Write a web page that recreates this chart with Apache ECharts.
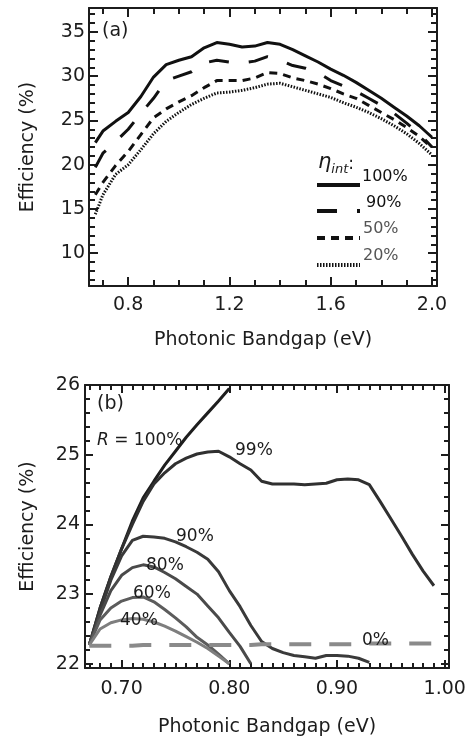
<!DOCTYPE html>
<html>
<head>
<meta charset="utf-8">
<script src="https://cdn.jsdelivr.net/npm/echarts@6/dist/echarts.min.js"></script>
<style>
  html, body { margin: 0; padding: 0; background: #fff; }
  #chart { width: 471px; height: 738px; }
</style>
</head>
<body>
<div id="chart"></div>
<script>
// ---- Panel (a): efficiency vs. photonic bandgap for several internal efficiencies ----
const bandgapA = [0.67, 0.70, 0.75, 0.80, 0.85, 0.90, 0.95, 1.00, 1.05, 1.10, 1.15, 1.20, 1.25, 1.30,
                  1.35, 1.40, 1.45, 1.50, 1.55, 1.60, 1.65, 1.70, 1.75, 1.80, 1.85, 1.90, 1.95, 2.00];
const effInt100 = [22.5, 23.8, 24.9, 25.9, 27.7, 29.9, 31.3, 31.8, 32.2, 33.2, 33.8, 33.6, 33.3, 33.4,
                   33.8, 33.6, 33.0, 32.3, 31.6, 30.8, 30.1, 29.3, 28.4, 27.5, 26.5, 25.5, 24.4, 23.1];
const effInt90  = [19.7, 21.3, 22.6, 24.0, 25.8, 27.5, 29.5, 30.0, 30.5, 31.5, 31.8, 31.6, 31.5, 31.7,
                   32.2, 31.8, 31.2, 30.9, 30.4, 29.5, 28.9, 28.3, 27.5, 26.7, 25.8, 24.7, 23.5, 22.0];
const effInt50  = [16.6, 18.0, 19.9, 21.5, 23.4, 25.3, 26.3, 27.1, 27.8, 28.7, 29.5, 29.5, 29.5, 29.8,
                   30.4, 30.3, 29.8, 29.5, 29.1, 28.6, 28.0, 27.5, 26.7, 25.9, 25.1, 24.2, 23.2, 21.9];
const effInt20  = [14.4, 16.6, 18.9, 20.0, 21.7, 23.5, 24.9, 25.9, 26.8, 27.5, 28.1, 28.2, 28.4, 28.7,
                   29.1, 29.2, 28.8, 28.4, 28.0, 27.6, 27.0, 26.5, 25.9, 25.2, 24.4, 23.5, 22.4, 21.1];
const intNames = ['100%', '90%', '50%', '20%'];
const xTicksA = [0.8, 1.2, 1.6, 2.0];
const xMinorA = [0.7, 0.9, 1.0, 1.1, 1.3, 1.4, 1.5, 1.7, 1.8, 1.9];
const yTicksA = [10, 15, 20, 25, 30, 35];
const yMinorA = [7, 8, 9, 11, 12, 13, 14, 16, 17, 18, 19, 21, 22, 23, 24, 26, 27, 28, 29, 31, 32, 33, 34, 36, 37];

// ---- Panel (b): efficiency vs. photonic bandgap for several mirror reflectivities R ----
const bandgapB = [0.67, 0.68, 0.69, 0.70, 0.71, 0.72, 0.73, 0.74, 0.75, 0.76, 0.77, 0.78, 0.79, 0.80,
                  0.81, 0.82, 0.83, 0.84, 0.85, 0.86, 0.87, 0.88, 0.89, 0.90, 0.91, 0.92, 0.93, 0.94,
                  0.95, 0.96, 0.97, 0.98, 0.99, 1.00];
const effR100 = [22.27, 22.80, 23.25, 23.65, 24.05, 24.38, 24.62, 24.85, 25.05, 25.25, 25.43, 25.60, 25.77, 25.95];
const effR99  = [22.27, 22.80, 23.25, 23.65, 24.00, 24.33, 24.58, 24.74, 24.87, 24.95, 25.01, 25.04, 25.05, 24.97,
                 24.87, 24.78, 24.62, 24.58, 24.58, 24.58, 24.57, 24.58, 24.59, 24.64, 24.65, 24.64, 24.57, 24.33,
                 24.08, 23.83, 23.57, 23.33, 23.12];
const effR90  = [22.27, 22.75, 23.20, 23.55, 23.77, 23.83, 23.82, 23.80, 23.75, 23.68, 23.60, 23.50, 23.32, 23.05,
                 22.82, 22.55, 22.32, 22.22, 22.16, 22.12, 22.10, 22.08, 22.12, 22.12, 22.11, 22.08, 22.02];
const effR80  = [22.27, 22.70, 23.05, 23.27, 23.38, 23.42, 23.39, 23.31, 23.22, 23.11, 23.00, 22.83, 22.66, 22.45,
                 22.25, 22.00];
const effR60  = [22.27, 22.63, 22.80, 22.90, 22.95, 22.96, 22.89, 22.78, 22.66, 22.53, 22.38, 22.27, 22.14, 22.00];
const effR40  = [22.27, 22.50, 22.59, 22.63, 22.65, 22.64, 22.60, 22.54, 22.47, 22.39, 22.31, 22.22, 22.11, 22.00];
const effR0   = [22.26, 22.26, 22.26, 22.26, 22.26, 22.27, 22.27, 22.27, 22.27, 22.27, 22.27, 22.27, 22.27, 22.27,
                 22.27, 22.27, 22.28, 22.28, 22.28, 22.28, 22.28, 22.28, 22.28, 22.28, 22.28, 22.28, 22.29, 22.29,
                 22.29, 22.29, 22.29, 22.29, 22.29, 22.29];
const xTicksB = [0.7, 0.8, 0.9, 1.0];
const xMinorB = [0.67, 0.68, 0.69, 0.71, 0.72, 0.73, 0.74, 0.75, 0.76, 0.77, 0.78, 0.79, 0.81, 0.82, 0.83, 0.84,
                 0.85, 0.86, 0.87, 0.88, 0.89, 0.91, 0.92, 0.93, 0.94, 0.95, 0.96, 0.97, 0.98, 0.99];
const yTicksB = [22, 23, 24, 25, 26];
const yMinorB = [22.2, 22.4, 22.6, 22.8, 23.2, 23.4, 23.6, 23.8, 24.2, 24.4, 24.6, 24.8, 25.2, 25.4, 25.6, 25.8];

const FONT = 'DejaVu Sans';
const INK = '#1c1c1c';

function pairs(xs, ys) { return ys.map((y, i) => [xs[i], y]); }

// Four overlaid axes per direction: labelled majors, minors, and mirrored majors/minors on the far side.
function boxAxes(dim, gridIndex, min, max, majors, minors, majLen, minLen, digits, name, nameGap, labelMargin) {
  const sides = dim === 'x' ? ['bottom', 'top'] : ['left', 'right'];
  const axes = [];
  sides.forEach((pos, s) => {
    [true, false].forEach(isMajor => {
      axes.push({
        type: 'value', gridIndex, position: pos, min, max,
        name: (s === 0 && isMajor) ? name : '',
        nameLocation: 'middle', nameGap,
        nameTextStyle: { fontFamily: FONT, fontSize: 19, color: INK },
        axisLine: { show: isMajor, onZero: false, lineStyle: { color: INK, width: 2 } },
        axisTick: { show: true, inside: true, customValues: isMajor ? majors : minors,
                    length: isMajor ? majLen : minLen, lineStyle: { color: INK, width: 2 } },
        axisLabel: (s === 0 && isMajor)
          ? { show: true, customValues: majors, margin: labelMargin, fontFamily: FONT, fontSize: 19, color: INK,
              formatter: v => Number(v).toFixed(digits) }
          : { show: false },
        splitLine: { show: false }
      });
    });
  });
  return axes;
}

const xAxes = [
  ...boxAxes('x', 0, 0.645, 2.02, xTicksA, xMinorA, 9, 6, 1, 'Photonic Bandgap (eV)', 45, 10),
  ...boxAxes('x', 1, 0.666, 1.004, xTicksB, xMinorB, 8, 5, 2, 'Photonic Bandgap (eV)', 50, 12)
];
const yAxes = [
  ...boxAxes('y', 0, 6.3, 37.7, yTicksA, yMinorA, 9, 6, 0, 'Efficiency (%)', 51, 4),
  ...boxAxes('y', 1, 21.94, 26.0, yTicksB, yMinorB, 8, 5, 0, 'Efficiency (%)', 47, 5)
];

const dashA = ['solid', [20, 20], [8, 6], [1.5, 1.5]];
const effIntSets = [effInt100, effInt90, effInt50, effInt20];
const seriesA = effIntSets.map((ys, i) => ({
  type: 'line', name: intNames[i], xAxisIndex: 0, yAxisIndex: 0,
  data: pairs(bandgapA, ys), symbol: 'none', smooth: false,
  itemStyle: { color: '#111' },
  lineStyle: { color: '#111', width: 3, type: dashA[i] }
}));

const rSets = [
  { ys: effR100, color: '#1e1e1e' },
  { ys: effR99,  color: '#303030' },
  { ys: effR90,  color: '#3a3a3a' },
  { ys: effR80,  color: '#4a4a4a' },
  { ys: effR60,  color: '#5c5c5c' },
  { ys: effR40,  color: '#7e7e7e' }
];
const seriesB = rSets.map(r => ({
  type: 'line', xAxisIndex: 4, yAxisIndex: 4, data: pairs(bandgapB, r.ys), symbol: 'none',
  lineStyle: { color: r.color, width: 3 }
}));
seriesB.push({
  type: 'line', xAxisIndex: 4, yAxisIndex: 4, data: pairs(bandgapB, effR0), symbol: 'none',
  lineStyle: { color: '#8a8a8a', width: 4, type: [22, 18] }
});

// Legend swatches for panel (a); the row captions sit a little above each swatch.
const legendRows = [
  { name: '100%', top: 178, color: '#111', textLeft: 362, textTop: 169 },
  { name: '90%',  top: 204, color: '#111', textLeft: 366, textTop: 195 },
  { name: '50%',  top: 231, color: '#555', textLeft: 363, textTop: 221 },
  { name: '20%',  top: 258, color: '#555', textLeft: 363, textTop: 248 }
];
const legends = legendRows.map(r => ({
  data: [r.name],
  left: 315, top: r.top, itemWidth: 43, itemHeight: 14, itemGap: 0, padding: 0,
  selectedMode: false, formatter: () => '',
  itemStyle: { opacity: 0 },
  lineStyle: { width: 4, color: '#111' }
}));

function note(text, left, top, size, color) {
  return { text, left, top, padding: 0,
    textStyle: { fontFamily: FONT, fontSize: size || 17, fontWeight: 'normal', color: color || INK, lineHeight: size || 17 } };
}
const titles = [
  note('(a)', 102, 22, 19),
  note('(b)', 97, 395, 19),
  { text: '{i|R} = 100%', left: 97, top: 432, padding: 0,
    textStyle: { fontFamily: FONT, fontSize: 17, fontWeight: 'normal', color: INK, lineHeight: 17,
      rich: { i: { fontFamily: FONT, fontSize: 17, fontWeight: 'normal', fontStyle: 'italic', color: INK } } } },
  note('99%', 235, 442),
  note('90%', 176, 528),
  note('80%', 146, 557),
  note('60%', 133, 585),
  note('40%', 120, 612),
  note('0%', 362, 632),
  ...legendRows.map(r => note(r.name, r.textLeft, r.textTop, 16, r.color)),
  { text: '{e|η}{s|int}{c|:}', left: 318, top: 152, padding: 0,
    textStyle: { fontWeight: 'normal', rich: {
      e: { fontFamily: FONT, fontSize: 21, fontWeight: 'normal', fontStyle: 'italic', color: INK, verticalAlign: 'bottom' },
      s: { fontFamily: FONT, fontSize: 13, fontWeight: 'normal', fontStyle: 'italic', color: INK, verticalAlign: 'bottom', padding: [0, 0, -3, 0] },
      c: { fontFamily: FONT, fontSize: 17, fontWeight: 'normal', color: INK, verticalAlign: 'bottom' }
    } } }
];

const chart = echarts.init(document.getElementById('chart'), null, { renderer: 'canvas' });
chart.setOption({
  animation: false,
  backgroundColor: '#fff',
  textStyle: { fontFamily: FONT },
  title: titles,
  legend: legends,
  grid: [
    { left: 89, top: 8, width: 348, height: 278 },
    { left: 85, top: 385, width: 364, height: 292 }
  ],
  xAxis: xAxes,
  yAxis: yAxes,
  series: [...seriesA, ...seriesB]
});
</script>
</body>
</html>
